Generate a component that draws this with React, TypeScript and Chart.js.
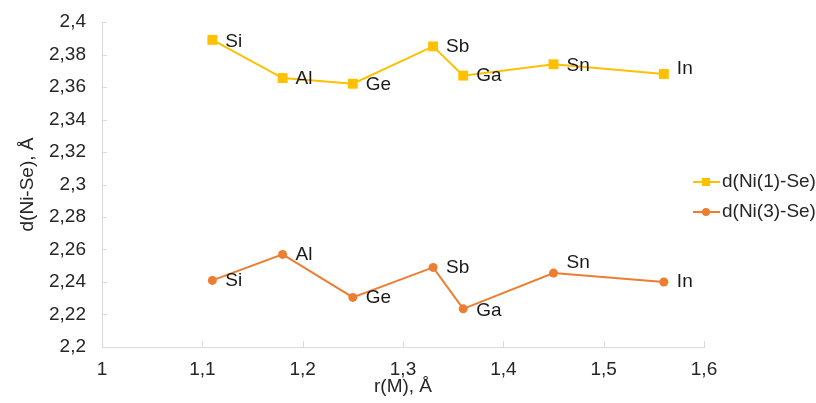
import React, { useEffect, useRef } from "react";
import { Chart, registerables } from "chart.js";

Chart.register(...registerables);

// ---- data ----
const elements = ["Si", "Al", "Ge", "Sb", "Ga", "Sn", "In"];
const radii = [1.11, 1.18, 1.25, 1.33, 1.36, 1.45, 1.56];
const ni1Se = [2.389, 2.3655, 2.362, 2.385, 2.367, 2.374, 2.368];
const ni3Se = [2.241, 2.257, 2.2305, 2.249, 2.2235, 2.2455, 2.240];
const seriesNames = ["d(Ni(1)-Se)", "d(Ni(3)-Se)"];
const xAxisTitle = "r(M), Å";
const yAxisTitle = "d(Ni-Se), Å";

// ---- style ----
const FONT = "'Liberation Sans', Arial, sans-serif";
const FS = 19;
const YELLOW = "#FFC000";
const ORANGE = "#ED7D31";
const AXIS = "#d9d9d9";
const TEXT = "#262626";
// per-point vertical nudges of the element labels (style only)
const labelNudge = [
  [2, 1, 1, 0, 0, 2, -5],
  [0, 0, 0, 0, 2, -10, 0],
];

const fmt = (v: number) => String(Number(v.toFixed(2))).replace(".", ",");

const pointLabels = {
  id: "pointLabels",
  afterDatasetsDraw(chart: any) {
    const ctx = chart.ctx;
    ctx.save();
    ctx.font = `${FS}px ${FONT}`;
    ctx.fillStyle = "#1a1a1a";
    ctx.textAlign = "left";
    ctx.textBaseline = "middle";
    chart.data.datasets.forEach((ds: any, di: number) => {
      const meta = chart.getDatasetMeta(di);
      meta.data.forEach((pt: any, i: number) => {
        ctx.fillText(elements[i], pt.x + 13, pt.y + labelNudge[di][i]);
      });
    });
    ctx.restore();
  },
};

const insideTicks = {
  id: "insideTicks",
  afterDraw(chart: any) {
    const ctx = chart.ctx;
    const { x, y } = chart.scales;
    ctx.save();
    ctx.strokeStyle = AXIS;
    ctx.lineWidth = 1;
    ctx.beginPath();
    y.ticks.forEach((t: any) => {
      const py = Math.round(y.getPixelForValue(t.value)) + 0.5;
      ctx.moveTo(x.left, py);
      ctx.lineTo(x.left + 5, py);
    });
    x.ticks.forEach((t: any) => {
      const px = Math.round(x.getPixelForValue(t.value)) + 0.5;
      ctx.moveTo(px, y.bottom);
      ctx.lineTo(px, y.bottom - 6);
    });
    ctx.stroke();
    ctx.restore();
  },
};

const customLegend = {
  id: "customLegend",
  afterDraw(chart: any) {
    const ctx = chart.ctx;
    const items = [
      { label: seriesNames[0], color: YELLOW, style: "rect", y: 182 },
      { label: seriesNames[1], color: ORANGE, style: "circle", y: 212 },
    ];
    ctx.save();
    items.forEach((it) => {
      ctx.strokeStyle = it.color;
      ctx.lineWidth = 2;
      ctx.beginPath();
      ctx.moveTo(693, it.y);
      ctx.lineTo(720, it.y);
      ctx.stroke();
      ctx.fillStyle = it.color;
      if (it.style === "rect") {
        ctx.fillRect(702, it.y - 4, 8, 8);
      } else {
        ctx.beginPath();
        ctx.arc(706, it.y, 4, 0, Math.PI * 2);
        ctx.fill();
      }
      ctx.font = `${FS}px ${FONT}`;
      ctx.fillStyle = TEXT;
      ctx.textAlign = "left";
      ctx.textBaseline = "middle";
      ctx.fillText(it.label, 722, it.y);
    });
    ctx.restore();
  },
};

export default function App() {
  const ref = useRef<HTMLCanvasElement>(null);

  useEffect(() => {
    if (!ref.current) return;
    const chart = new Chart(ref.current, {
      type: "line",
      data: {
        datasets: [
          {
            label: seriesNames[0],
            data: radii.map((r, i) => ({ x: r, y: ni1Se[i] })),
            borderColor: YELLOW,
            backgroundColor: YELLOW,
            borderWidth: 2,
            pointStyle: "rect",
            pointRadius: 7,
            pointBorderWidth: 0,
            tension: 0,
          },
          {
            label: seriesNames[1],
            data: radii.map((r, i) => ({ x: r, y: ni3Se[i] })),
            borderColor: ORANGE,
            backgroundColor: ORANGE,
            borderWidth: 2,
            pointStyle: "circle",
            pointRadius: 4.5,
            pointBorderWidth: 0,
            tension: 0,
          },
        ],
      },
      options: {
        responsive: false,
        animation: false,
        layout: { padding: { top: 22, right: 112, left: 0, bottom: 0 } },
        plugins: {
          legend: { display: false },
          tooltip: { enabled: false },
        },
        scales: {
          x: {
            type: "linear",
            min: 1,
            max: 1.6,
            grid: { display: false, drawTicks: false },
            border: { display: true, color: AXIS, width: 1 },
            ticks: {
              stepSize: 0.1,
              padding: 11,
              color: TEXT,
              font: { family: FONT, size: FS },
              callback: (v: any) => fmt(Number(v)),
            },
            title: {
              display: true,
              text: xAxisTitle,
              color: TEXT,
              font: { family: FONT, size: FS },
              padding: { top: 0, bottom: 5 },
            },
            afterFit: (s: any) => {
              s.height = 56;
              s.paddingLeft = 0;
              s.paddingRight = 0;
            },
          },
          y: {
            type: "linear",
            min: 2.2,
            max: 2.4,
            grid: { display: false, drawTicks: false },
            border: { display: true, color: AXIS, width: 1 },
            ticks: {
              stepSize: 0.02,
              padding: 16,
              color: TEXT,
              font: { family: FONT, size: FS },
              callback: (v: any) => fmt(Number(v)),
            },
            title: {
              display: true,
              text: yAxisTitle,
              color: TEXT,
              font: { family: FONT, size: FS },
              padding: { top: 16, bottom: 0 },
            },
            afterFit: (s: any) => {
              s.width = 102;
              s.paddingTop = 0;
              s.paddingBottom = 0;
            },
          },
        },
      },
      plugins: [insideTicks, pointLabels, customLegend],
    });
    return () => chart.destroy();
  }, []);

  return (
    <div style={{ position: "fixed", left: 0, top: 0, width: 816, height: 403, background: "#fff" }}>
      <canvas ref={ref} width={816} height={403} />
    </div>
  );
}
